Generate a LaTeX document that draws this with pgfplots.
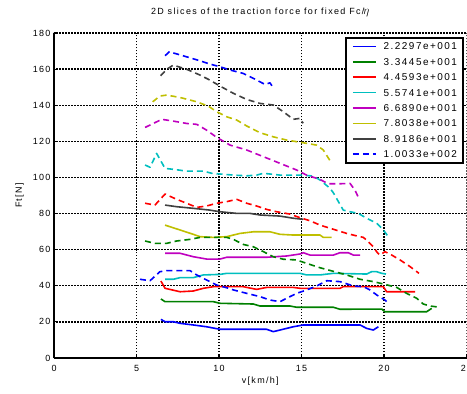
\documentclass[border=0pt]{standalone}
\usepackage{fontspec}
\setmainfont{Liberation Sans}[LetterSpace=15]
\usepackage{pgfplots}
\pgfplotsset{compat=1.18}
\usetikzlibrary{decorations.markings}

\definecolor{mblue}{rgb}{0,0,1}
\definecolor{mgreen}{rgb}{0,0.5,0}
\definecolor{mred}{rgb}{1,0,0}
\definecolor{mcyan}{rgb}{0,0.75,0.75}
\definecolor{mmag}{rgb}{0.75,0,0.75}
\definecolor{myel}{rgb}{0.75,0.75,0}
\definecolor{mgray}{rgb}{0.25,0.25,0.25}

\tikzset{
  dotgrid/.style={draw=black, line width=1.2bp, dash pattern=on 1.5bp off 1.5bp},
  dotrow/.style={decorate, decoration={markings,
    mark=between positions 0 and 1 step 3bp with {\fill[black] (-0.7bp,-0.65bp) rectangle (0.7bp,0.65bp);}}},
}

\begin{document}
\begin{tikzpicture}
\begin{axis}[
  scale only axis, width=412.5bp, height=325bp,
  xmin=0, xmax=25, ymin=0, ymax=180,
  xtick={0,5,...,25}, ytick={0,20,...,180},
  axis x line*=bottom, axis y line*=left,
  axis line style={line width=1.8bp, -},
  tick align=inside, major tick length=4bp,
  tick style={black, line width=1.2bp},
  /pgf/number format/assume math mode=true,
  ticklabel style={font=\fontsize{9}{10}\selectfont},
  xticklabel style={yshift=-4bp},
  label style={font=\fontsize{9}{10}\selectfont},
  xlabel={v[km/h]}, ylabel={Ft[N]},
  xlabel style={at={(rel axis cs:0.5,-0.0708)}, anchor=center},
  ylabel style={at={(rel axis cs:-0.0836,0.5)}, anchor=center},
  title={2D slices of the traction force for fixed Fc/\kern-1.2bp{\fontsize{13}{13}\selectfont$\eta$}},
  title style={font=\fontsize{9}{10}\selectfont, at={(rel axis cs:0.5,1.04)}, anchor=base},
  every axis plot/.append style={no markers, line width=1.6bp, line join=round},
  legend cell align=left,
  legend image code/.code={\draw[#1] (0bp,0bp) -- (23bp,0bp);},
  legend style={at={(rel axis cs:0.7055,0.988)}, anchor=north west,
    draw=black, line width=2bp, fill=white,
    font=\fontsize{10}{11}\selectfont,
    inner xsep=6bp, inner ysep=5bp, row sep=8.4bp, column sep=7bp,
    nodes={inner sep=0pt, text height=7bp, text depth=0bp}},
]
% dotted grid at the major ticks
\pgfplotsinvokeforeach{5,10,15,20,25}{
  \draw[dotgrid] (axis cs:#1,0) -- (axis cs:#1,60);
  \draw[dotgrid] (axis cs:#1,60) -- (axis cs:#1,120);
  \draw[dotgrid] (axis cs:#1,120) -- (axis cs:#1,180);
}
\pgfplotsinvokeforeach{20,40,60,80,100,120,140,160,180}{
  \path[dotrow] (axis cs:0,#1) -- (axis cs:25,#1);
}
% solid slices
\addplot[mblue] coordinates {(6.48,21.4)(6.73,20.1)(7.23,20.1)(7.64,19.2)(8.44,18.3)(9.25,17.3)(10.06,15.9)(12.89,15.9)(13.29,14.6)(13.7,15.5)(14.5,17.3)(15.11,18.3)(18.55,18.3)(18.95,16.4)(19.35,15.5)(19.66,17.3)};
\addplot[mgreen] coordinates {(6.48,32.7)(6.73,31.2)(9.66,31.2)(10.06,30.3)(12.08,29.9)(12.48,28.8)(14.3,28.8)(14.71,28.1)(16.93,28.1)(17.33,27.0)(19.86,27.1)(20.06,25.6)(22.58,25.6)(22.89,27.5)};
\addplot[mred] coordinates {(6.48,42.6)(6.73,38.6)(7.64,36.7)(8.44,37.1)(9.05,38.6)(9.66,39.5)(11.47,39.5)(12.28,38.0)(12.89,39.1)(14.5,39.1)(14.91,38.6)(17.33,38.6)(17.53,39.5)(19.96,39.5)(20.16,36.7)(21.88,36.7)};
\addplot[mcyan] coordinates {(6.73,43.6)(7.23,43.6)(7.64,44.5)(8.44,44.5)(9.05,46.0)(10.06,46.3)(10.47,46.9)(14.91,46.9)(15.31,46.0)(16.12,46.0)(16.93,46.9)(18.95,46.5)(19.25,47.8)(19.56,47.8)(19.86,46.9)(20.12,46.5)};
\addplot[mmag] coordinates {(6.73,58.0)(7.64,58.0)(8.44,56.1)(9.25,54.8)(10.06,54.8)(10.47,55.8)(12.89,55.8)(14.1,56.5)(14.91,57.6)(15.11,58.3)(15.52,57.0)(16.93,57.0)(17.33,58.3)(17.84,58.3)(18.14,57.0)(18.55,57.0)};
\addplot[myel] coordinates {(6.73,73.6)(7.03,72.7)(7.64,70.9)(8.44,68.5)(8.85,67.2)(9.66,66.8)(10.47,67.2)(11.27,69.0)(12.08,69.9)(13.09,69.9)(13.7,68.5)(14.5,68.1)(16.12,68.1)(16.32,66.8)(16.83,66.8)};
\addplot[mgray] coordinates {(6.73,84.7)(7.43,83.8)(8.44,82.9)(9.45,81.9)(10.06,81.0)(11.07,80.1)(11.88,80.1)(12.48,79.2)(13.7,78.6)(14.5,77.4)(15.11,76.8)};
% dashed slices
\addplot[mblue, dash pattern=on 6bp off 4bp] coordinates {(5.21,43.6)(5.82,42.8)(6.42,47.8)(6.83,48.4)(8.24,48.4)(8.65,46.0)(9.25,43.2)(9.86,40.4)(10.47,38.9)(10.87,37.7)(11.68,35.8)(12.48,34.0)(13.09,32.1)(13.7,31.2)(14.1,33.1)(14.71,35.8)(15.31,37.7)(15.92,39.9)(16.53,42.8)(17.33,42.3)(18.14,39.9)(18.75,39.5)(19.15,37.7)(19.56,34.9)(20.06,32.1)(20.32,29.9)};
\addplot[mgreen, dash pattern=on 6bp off 4bp, forget plot] coordinates {(5.52,64.8)(6.12,63.5)(6.83,63.5)(7.43,64.8)(8.24,65.7)(8.85,66.8)(10.47,66.8)(10.87,65.7)(11.47,62.9)(12.08,61.6)(12.69,58.9)(13.29,56.1)(13.9,54.7)(14.71,54.3)(15.31,52.4)(16.12,50.0)(16.93,48.0)(17.74,46.0)(18.55,43.6)(19.35,42.3)(19.96,41.0)(20.77,39.1)(21.37,35.8)(21.98,33.1)(22.38,29.9)(22.79,28.8)(23.39,28.1)};
\addplot[mred, dash pattern=on 6bp off 4bp, forget plot] coordinates {(5.52,85.7)(6.12,84.7)(6.73,90.8)(7.43,87.9)(8.04,85.7)(8.65,83.4)(9.25,84.2)(9.86,85.7)(10.47,86.6)(11.07,87.9)(11.68,85.7)(12.28,84.2)(12.89,82.3)(13.5,81.0)(14.3,79.7)(14.91,77.7)(15.52,76.0)(16.12,73.6)(16.93,71.3)(17.74,69.0)(18.35,67.6)(18.75,66.8)(19.05,64.4)(19.35,61.6)(19.6,58.3)(19.76,57.0)(20.06,58.9)(20.47,57.0)(20.97,54.3)(21.58,50.6)(22.12,46.9)};
\addplot[mcyan, dash pattern=on 6bp off 4bp, forget plot] coordinates {(5.52,106.9)(5.82,105.6)(6.22,113.3)(6.73,105.0)(7.23,104.5)(8.04,103.5)(9.05,103.5)(9.56,102.3)(10.06,101.9)(10.87,101.3)(11.68,100.9)(12.28,101.3)(12.69,102.3)(13.7,101.3)(14.91,101.3)(15.71,100.8)(16.12,98.6)(16.73,94.0)(16.93,91.5)(17.53,81.9)(17.94,81.0)(18.44,80.1)(18.95,77.4)(19.56,74.6)(19.96,70.9)(20.26,67.2)};
\addplot[mmag, dash pattern=on 6bp off 4bp, forget plot] coordinates {(5.52,127.7)(6.02,129.9)(6.53,132.2)(7.23,131.2)(8.04,129.9)(8.65,129.4)(9.25,126.2)(9.86,122.2)(10.67,117.9)(11.68,115.2)(12.69,111.5)(13.7,107.8)(14.71,104.1)(15.31,101.3)(16.12,98.9)(16.62,96.5)(17.33,96.5)(17.94,96.7)(18.24,93.0)(18.5,87.9)};
\addplot[myel, dash pattern=on 6bp off 4bp, forget plot] coordinates {(5.98,141.9)(6.42,145.1)(6.83,145.6)(7.64,144.3)(8.65,141.9)(9.35,139.5)(9.86,136.4)(10.47,133.6)(11.07,131.8)(11.68,128.5)(12.48,124.8)(13.29,122.5)(14.1,120.7)(15.11,119.2)(15.92,117.9)(16.32,115.2)(16.77,108.7)};
\addplot[mgray, dash pattern=on 6bp off 4bp, forget plot] coordinates {(6.46,156.3)(6.83,159.9)(7.23,162.2)(8.04,159.9)(8.85,156.7)(9.45,153.9)(10.06,150.6)(10.87,146.6)(11.68,143.2)(12.48,141.0)(13.29,140.1)(13.9,136.4)(14.5,132.2)(14.9,132.7)(15.1,130.0)};
\addplot[mblue, dash pattern=on 6bp off 4bp, forget plot] coordinates {(6.73,167.4)(6.99,169.6)(7.33,168.7)(8.04,166.8)(8.85,164.6)(9.45,162.8)(10.06,161.3)(10.67,159.5)(11.47,157.6)(12.08,154.9)(12.79,151.5)(13.09,152.4)(13.29,149.7)};
\legend{2.2297e+001,3.3445e+001,4.4593e+001,5.5741e+001,6.6890e+001,7.8038e+001,8.9186e+001,1.0033e+002}
\end{axis}
\pgfresetboundingbox
\path[use as bounding box] ([xshift=-54bp,yshift=-36bp]current axis.south west) rectangle ([xshift=0.5bp,yshift=33bp]current axis.north east);
\end{tikzpicture}
\end{document}
